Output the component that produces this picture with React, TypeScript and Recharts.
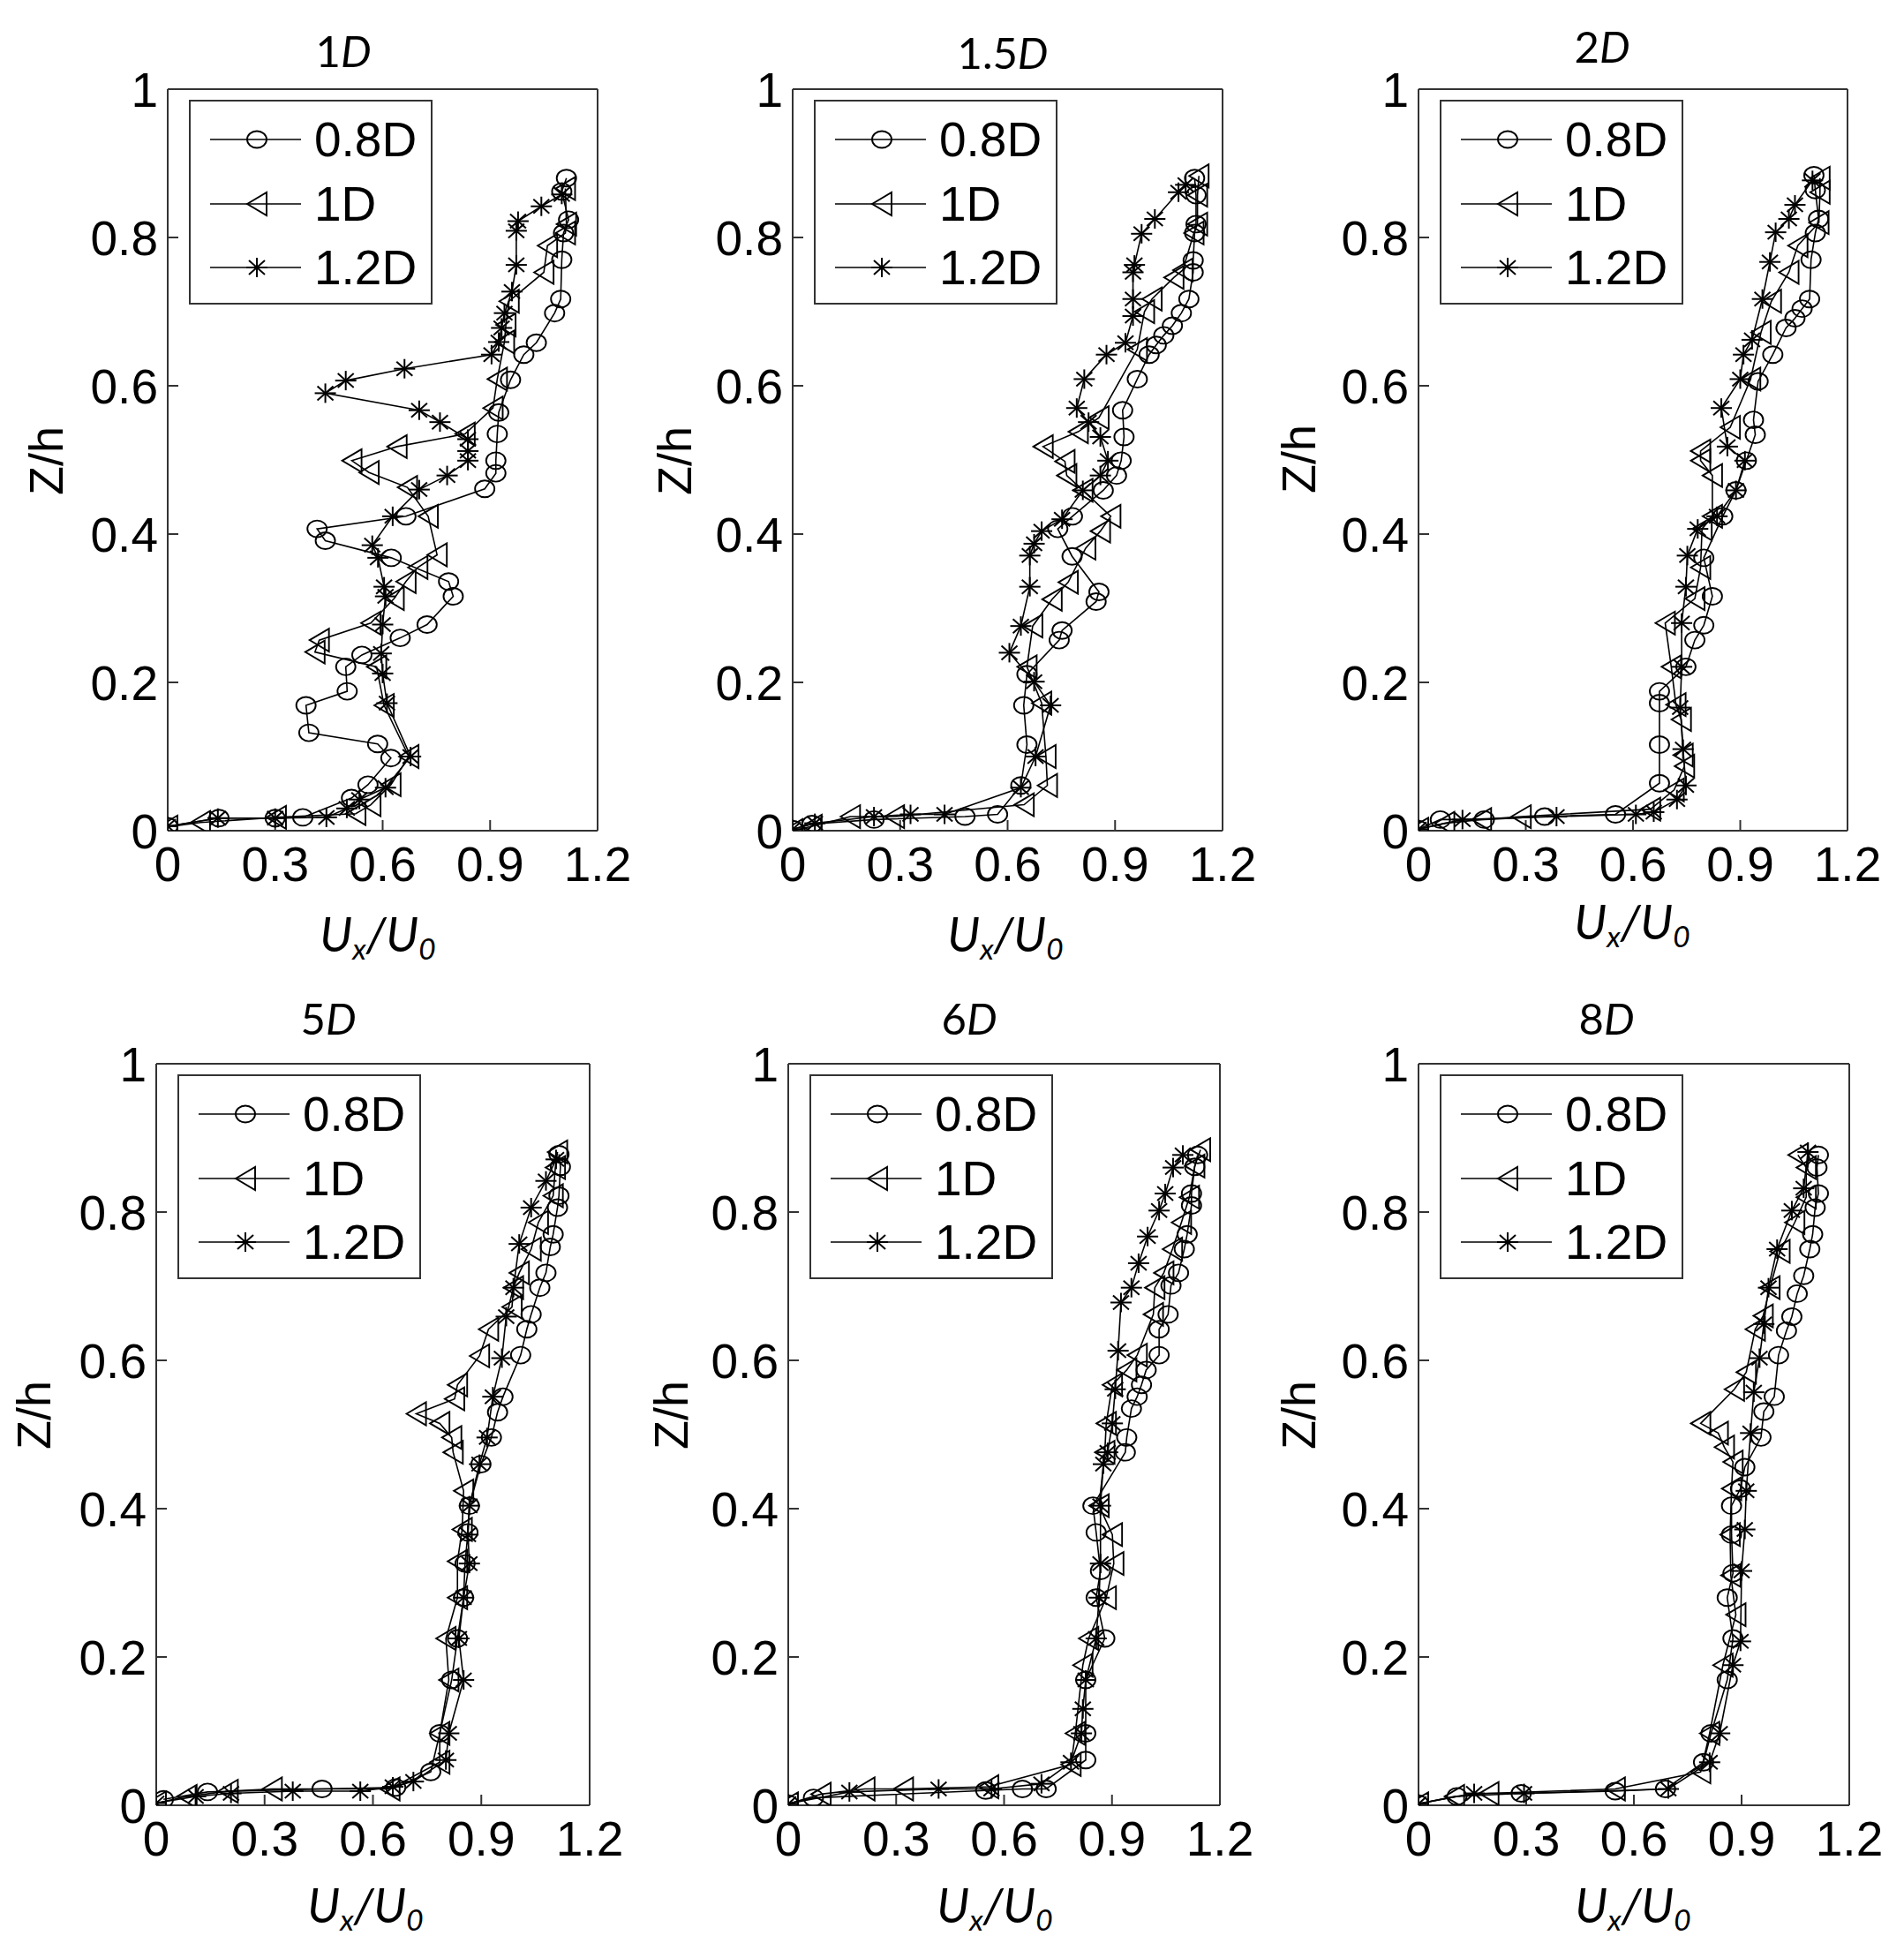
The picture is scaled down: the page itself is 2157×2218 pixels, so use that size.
import React from "react";
import { ScatterChart, Scatter, XAxis, YAxis, Legend } from "recharts";

type Pt = [number, number];

const d1_08: Pt[] = [
  [1.113, 0.88], [1.1, 0.862], [1.119, 0.824], [1.105, 0.806], [1.1, 0.77], [1.097, 0.717], [1.08, 0.698],
  [1.029, 0.658], [0.994, 0.642], [0.957, 0.608], [0.924, 0.564], [0.92, 0.535], [0.916, 0.499], [0.916, 0.482],
  [0.885, 0.461], [0.665, 0.424], [0.417, 0.407], [0.44, 0.391], [0.624, 0.368], [0.784, 0.336], [0.797, 0.316],
  [0.724, 0.278], [0.649, 0.26], [0.542, 0.237], [0.497, 0.221], [0.501, 0.188], [0.386, 0.169], [0.394, 0.132],
  [0.586, 0.117], [0.623, 0.098], [0.559, 0.062], [0.513, 0.044], [0.377, 0.018], [0.3, 0.017], [0.143, 0.017],
  [0.0, 0.006],
];
const d1_10: Pt[] = [
  [1.11, 0.866], [1.113, 0.818], [1.11, 0.806], [1.06, 0.789], [1.05, 0.753], [0.953, 0.714], [0.944, 0.682],
  [0.94, 0.659], [0.92, 0.609], [0.908, 0.57], [0.83, 0.535], [0.64, 0.518], [0.514, 0.499], [0.562, 0.483],
  [0.669, 0.463], [0.727, 0.424], [0.752, 0.372], [0.698, 0.355], [0.665, 0.336], [0.632, 0.313], [0.567, 0.28],
  [0.423, 0.257], [0.411, 0.241], [0.583, 0.221], [0.604, 0.169], [0.673, 0.1], [0.623, 0.062], [0.567, 0.035],
  [0.525, 0.023], [0.303, 0.018], [0.091, 0.011], [0.0, 0.005],
];
const d1_12: Pt[] = [
  [1.1, 0.858], [1.043, 0.842], [0.978, 0.822], [0.973, 0.809], [0.973, 0.763], [0.961, 0.727], [0.94, 0.698],
  [0.932, 0.678], [0.924, 0.659], [0.904, 0.642], [0.661, 0.623], [0.497, 0.607], [0.44, 0.59], [0.702, 0.567],
  [0.76, 0.551], [0.838, 0.528], [0.838, 0.512], [0.838, 0.499], [0.78, 0.479], [0.702, 0.46], [0.628, 0.424],
  [0.571, 0.385], [0.587, 0.368], [0.604, 0.329], [0.608, 0.316], [0.6, 0.278], [0.596, 0.239], [0.6, 0.212],
  [0.612, 0.172], [0.678, 0.1], [0.608, 0.058], [0.535, 0.042], [0.5, 0.03], [0.443, 0.018], [0.3, 0.017],
  [0.14, 0.017], [0.0, 0.006],
];

const d15_08: Pt[] = [
  [1.122, 0.88], [1.126, 0.857], [1.126, 0.818], [1.122, 0.806], [1.118, 0.769], [1.118, 0.753], [1.106, 0.717],
  [1.085, 0.698], [1.06, 0.681], [1.036, 0.668], [1.015, 0.655], [0.995, 0.642], [0.962, 0.609], [0.921, 0.567],
  [0.925, 0.531], [0.917, 0.499], [0.904, 0.479], [0.867, 0.459], [0.781, 0.424], [0.74, 0.407], [0.78, 0.37],
  [0.855, 0.322], [0.847, 0.309], [0.752, 0.27], [0.744, 0.257], [0.654, 0.211], [0.645, 0.169], [0.654, 0.116],
  [0.637, 0.061], [0.572, 0.022], [0.481, 0.019], [0.227, 0.015], [0.054, 0.009], [0.0, 0.002],
];
const d15_10: Pt[] = [
  [1.134, 0.883], [1.13, 0.857], [1.13, 0.818], [1.12, 0.806], [1.089, 0.756], [1.064, 0.746], [1.003, 0.717],
  [0.982, 0.7], [0.962, 0.649], [0.855, 0.557], [0.797, 0.538], [0.699, 0.518], [0.76, 0.498], [0.765, 0.479],
  [0.81, 0.459], [0.888, 0.424], [0.859, 0.404], [0.818, 0.381], [0.769, 0.335], [0.724, 0.312], [0.67, 0.276],
  [0.654, 0.221], [0.695, 0.172], [0.707, 0.1], [0.711, 0.061], [0.646, 0.035], [0.284, 0.019], [0.161, 0.019],
  [0.054, 0.006], [0.0, 0.0],
];
const d15_12: Pt[] = [
  [1.097, 0.871], [1.077, 0.861], [1.011, 0.825], [0.974, 0.805], [0.954, 0.763], [0.95, 0.753], [0.95, 0.717],
  [0.95, 0.694], [0.929, 0.658], [0.876, 0.642], [0.814, 0.609], [0.793, 0.57], [0.826, 0.551], [0.859, 0.531],
  [0.88, 0.499], [0.859, 0.479], [0.81, 0.459], [0.752, 0.42], [0.695, 0.404], [0.674, 0.387], [0.662, 0.371],
  [0.662, 0.329], [0.637, 0.276], [0.605, 0.24], [0.674, 0.201], [0.72, 0.169], [0.678, 0.1], [0.637, 0.058],
  [0.424, 0.022], [0.329, 0.022], [0.227, 0.019], [0.062, 0.01], [0.0, 0.002],
];

const d2_08: Pt[] = [
  [1.106, 0.884], [1.11, 0.864], [1.119, 0.825], [1.11, 0.806], [1.098, 0.77], [1.094, 0.717], [1.073, 0.704],
  [1.053, 0.691], [1.028, 0.678], [0.991, 0.642], [0.95, 0.606], [0.937, 0.554], [0.942, 0.534], [0.917, 0.499],
  [0.888, 0.459], [0.851, 0.424], [0.798, 0.368], [0.822, 0.316], [0.798, 0.277], [0.773, 0.257], [0.748, 0.221],
  [0.674, 0.188], [0.674, 0.172], [0.674, 0.116], [0.674, 0.064], [0.551, 0.022], [0.353, 0.019], [0.184, 0.015],
  [0.061, 0.015], [0.0, 0.002],
];
const d2_10: Pt[] = [
  [1.123, 0.88], [1.123, 0.861], [1.12, 0.82], [1.061, 0.789], [1.036, 0.753], [0.987, 0.714], [0.958, 0.672],
  [0.929, 0.609], [0.872, 0.544], [0.789, 0.512], [0.789, 0.499], [0.822, 0.479], [0.822, 0.424], [0.793, 0.407],
  [0.789, 0.355], [0.773, 0.313], [0.69, 0.28], [0.707, 0.221], [0.72, 0.17], [0.735, 0.15], [0.74, 0.102],
  [0.744, 0.087], [0.715, 0.055], [0.649, 0.029], [0.287, 0.019], [0.176, 0.015], [0.073, 0.01], [0.0, 0.002],
];
const d2_12: Pt[] = [
  [1.102, 0.877], [1.053, 0.844], [1.036, 0.825], [0.999, 0.807], [0.983, 0.767], [0.962, 0.717], [0.933, 0.662],
  [0.909, 0.642], [0.9, 0.609], [0.847, 0.57], [0.864, 0.518], [0.913, 0.499], [0.888, 0.459], [0.835, 0.424],
  [0.781, 0.407], [0.752, 0.371], [0.748, 0.329], [0.736, 0.28], [0.736, 0.221], [0.732, 0.166], [0.74, 0.11],
  [0.748, 0.061], [0.723, 0.042], [0.658, 0.025], [0.608, 0.022], [0.386, 0.019], [0.123, 0.015], [0.0, 0.002],
];

const d5_08: Pt[] = [
  [1.115, 0.878], [1.119, 0.861], [1.115, 0.822], [1.111, 0.806], [1.099, 0.77], [1.091, 0.753], [1.079, 0.718],
  [1.062, 0.698], [1.038, 0.662], [1.026, 0.642], [1.009, 0.607], [0.96, 0.551], [0.945, 0.53], [0.928, 0.496],
  [0.899, 0.46], [0.867, 0.404], [0.863, 0.368], [0.855, 0.326], [0.851, 0.28], [0.834, 0.225], [0.818, 0.169],
  [0.785, 0.097], [0.76, 0.045], [0.663, 0.024], [0.459, 0.022], [0.142, 0.018], [0.02, 0.008],
];
const d5_10: Pt[] = [
  [1.111, 0.881], [1.105, 0.86], [1.099, 0.822], [1.058, 0.786], [1.038, 0.75], [1.005, 0.718], [0.989, 0.698],
  [0.985, 0.672], [0.92, 0.642], [0.895, 0.606], [0.834, 0.567], [0.826, 0.548], [0.72, 0.528], [0.785, 0.515],
  [0.818, 0.496], [0.822, 0.476], [0.851, 0.424], [0.847, 0.372], [0.834, 0.329], [0.834, 0.28], [0.802, 0.225],
  [0.81, 0.169], [0.785, 0.097], [0.785, 0.058], [0.647, 0.022], [0.321, 0.022], [0.199, 0.019], [0.085, 0.012],
  [0.0, 0.003],
];
const d5_12: Pt[] = [
  [1.107, 0.871], [1.079, 0.842], [1.038, 0.806], [1.005, 0.757], [0.989, 0.698], [0.969, 0.659], [0.957, 0.603],
  [0.932, 0.551], [0.916, 0.496], [0.895, 0.46], [0.867, 0.404], [0.863, 0.365], [0.867, 0.326], [0.851, 0.28],
  [0.838, 0.225], [0.851, 0.169], [0.81, 0.097], [0.802, 0.061], [0.712, 0.032], [0.655, 0.025], [0.565, 0.019],
  [0.378, 0.019], [0.207, 0.016], [0.109, 0.012], [0.0, 0.003],
];

const d6_08: Pt[] = [
  [1.138, 0.877], [1.13, 0.861], [1.121, 0.825], [1.121, 0.809], [1.109, 0.77], [1.101, 0.75], [1.085, 0.718],
  [1.064, 0.701], [1.056, 0.662], [1.031, 0.642], [1.031, 0.607], [0.995, 0.587], [0.982, 0.567], [0.97, 0.551],
  [0.954, 0.535], [0.941, 0.496], [0.937, 0.476], [0.847, 0.404], [0.856, 0.368], [0.868, 0.316], [0.856, 0.28],
  [0.88, 0.225], [0.827, 0.169], [0.827, 0.097], [0.827, 0.061], [0.717, 0.022], [0.651, 0.022], [0.549, 0.02],
  [0.07, 0.01], [0.0, 0.002],
];
const d6_10: Pt[] = [
  [1.146, 0.884], [1.13, 0.862], [1.115, 0.82], [1.093, 0.786], [1.068, 0.75], [1.044, 0.718], [1.019, 0.698],
  [1.015, 0.662], [0.97, 0.607], [0.941, 0.587], [0.901, 0.567], [0.884, 0.515], [0.88, 0.476], [0.864, 0.404],
  [0.901, 0.365], [0.905, 0.326], [0.884, 0.28], [0.835, 0.225], [0.819, 0.189], [0.798, 0.097], [0.786, 0.055],
  [0.557, 0.025], [0.32, 0.022], [0.213, 0.022], [0.091, 0.015], [0.0, 0.002],
];
const d6_12: Pt[] = [
  [1.097, 0.877], [1.07, 0.86], [1.048, 0.825], [1.031, 0.802], [0.999, 0.767], [0.974, 0.731], [0.954, 0.698],
  [0.925, 0.678], [0.917, 0.613], [0.909, 0.561], [0.901, 0.515], [0.888, 0.476], [0.876, 0.46], [0.868, 0.404],
  [0.868, 0.326], [0.864, 0.28], [0.856, 0.225], [0.827, 0.169], [0.819, 0.13], [0.815, 0.097], [0.786, 0.058],
  [0.704, 0.029], [0.565, 0.022], [0.418, 0.022], [0.17, 0.018], [0.0, 0.002],
];

const d8_08: Pt[] = [
  [1.114, 0.877], [1.11, 0.86], [1.114, 0.825], [1.105, 0.806], [1.098, 0.77], [1.09, 0.75], [1.073, 0.714],
  [1.055, 0.69], [1.04, 0.659], [1.025, 0.64], [1.003, 0.607], [0.991, 0.551], [0.962, 0.531], [0.954, 0.496],
  [0.909, 0.456], [0.897, 0.427], [0.872, 0.404], [0.872, 0.365], [0.876, 0.313], [0.86, 0.28], [0.876, 0.225],
  [0.86, 0.169], [0.815, 0.097], [0.794, 0.058], [0.688, 0.022], [0.548, 0.019], [0.286, 0.016], [0.107, 0.012],
  [0.0, 0.002],
];
const d8_10: Pt[] = [
  [1.057, 0.877], [1.08, 0.86], [1.08, 0.82], [1.048, 0.786], [1.007, 0.747], [0.979, 0.698], [0.96, 0.66],
  [0.938, 0.642], [0.913, 0.584], [0.88, 0.561], [0.786, 0.515], [0.835, 0.502], [0.852, 0.483], [0.876, 0.463],
  [0.872, 0.427], [0.868, 0.365], [0.87, 0.31], [0.884, 0.257], [0.848, 0.189], [0.811, 0.097], [0.786, 0.045],
  [0.548, 0.022], [0.196, 0.016], [0.1, 0.012], [0.0, 0.002],
];
const d8_12: Pt[] = [
  [1.085, 0.881], [1.073, 0.832], [1.04, 0.802], [0.999, 0.75], [0.975, 0.698], [0.962, 0.649], [0.95, 0.603],
  [0.934, 0.557], [0.925, 0.502], [0.913, 0.424], [0.909, 0.372], [0.9, 0.316], [0.897, 0.221], [0.876, 0.189],
  [0.839, 0.097], [0.811, 0.058], [0.696, 0.022], [0.294, 0.016], [0.155, 0.016], [0.0, 0.002],
];

const seriesNames = ["0.8D", "1D", "1.2D"];
const xTicks = [0, 0.3, 0.6, 0.9, 1.2];
const zTicks = [0, 0.2, 0.4, 0.6, 0.8, 1];

const INK = "#000";
const FRAME = "#333";
const ARIAL = "'Liberation Sans', Arial, sans-serif";
const CALIBRI = "Lato, 'Open Sans', sans-serif";

const AXIS_W = 130; // room for the y tick labels
const AXIS_H = 80; // room for the x tick labels
const PAD_T = 40; // room above the frame for the "1" tick
const PAD_R = 50; // room right of the frame for the "1.2" tick
const PLOT_H = 840;

const rows = (pts: Pt[]) => pts.map(([x, z]) => ({ x, z }));

// MATLAB style markers
const Circle = ({ cx, cy }: any) => (
  <ellipse cx={cx} cy={cy} rx={11} ry={9.5} fill="none" stroke={INK} strokeWidth={1.9} />
);
const TriLeft = ({ cx, cy }: any) => (
  <polygon
    points={`${cx - 11},${cy} ${cx + 11},${cy - 13} ${cx + 11},${cy + 13}`}
    fill="none"
    stroke={INK}
    strokeWidth={1.9}
  />
);
const Star = ({ cx, cy }: any) => (
  <g stroke={INK} strokeWidth={2}>
    <line x1={cx - 12} y1={cy} x2={cx + 12} y2={cy} />
    <line x1={cx} y1={cy - 11} x2={cx} y2={cy + 11} />
    <line x1={cx - 9} y1={cy - 8} x2={cx + 9} y2={cy + 8} />
    <line x1={cx - 9} y1={cy + 8} x2={cx + 9} y2={cy - 8} />
  </g>
);
const markers: Record<string, (p: any) => React.ReactElement> = {
  "0.8D": Circle,
  "1D": TriLeft,
  "1.2D": Star,
};

// legend payload comes back sorted by name, so put it back in series order
const LegendBox = ({ payload }: any) => {
  const names: string[] =
    payload && payload.length
      ? payload.map((e: any) => String(e.value)).sort((a: string, b: string) => seriesNames.indexOf(a) - seriesNames.indexOf(b))
      : seriesNames;
  return (
    <div
      style={{
        width: 272,
        height: 228,
        border: `2px solid ${FRAME}`,
        background: "#fff",
        position: "relative",
      }}
    >
      {names.map((name, i) => {
        const Mark = markers[name];
        return (
          <div
            key={name}
            style={{ position: "absolute", left: 0, top: 13 + i * 72.5, height: 60, display: "flex", alignItems: "center" }}
          >
            <svg width={140} height={60}>
              <line x1={22} x2={125} y1={30} y2={30} stroke={INK} strokeWidth={1.3} />
              <Mark cx={75} cy={30} />
            </svg>
            <span style={{ fontFamily: ARIAL, fontSize: 55, lineHeight: "60px", color: INK }}>{name}</span>
          </div>
        );
      })}
    </div>
  );
};

interface PanelCfg {
  title: string;
  series: Pt[][];
  left: number;
  top: number;
  w: number;
  titleAt: [number, number];
  zAt: [number, number];
  uAt: [number, number];
}

const panels: PanelCfg[] = [
  { title: "1", series: [d1_08, d1_10, d1_12], left: 190, top: 101, w: 487, titleAt: [389, 57], zAt: [52, 522], uAt: [428, 1061] },
  { title: "1.5", series: [d15_08, d15_10, d15_12], left: 898, top: 101, w: 487, titleAt: [1136, 59], zAt: [764, 522], uAt: [1139, 1061] },
  { title: "2", series: [d2_08, d2_10, d2_12], left: 1607, top: 101, w: 486, titleAt: [1815, 52], zAt: [1471, 520], uAt: [1849, 1047] },
  { title: "5", series: [d5_08, d5_10, d5_12], left: 177, top: 1205, w: 491, titleAt: [372, 1153], zAt: [38, 1603], uAt: [414, 2161] },
  { title: "6", series: [d6_08, d6_10, d6_12], left: 893, top: 1205, w: 489, titleAt: [1098, 1153], zAt: [760, 1603], uAt: [1127, 2161] },
  { title: "8", series: [d8_08, d8_10, d8_12], left: 1607, top: 1205, w: 488, titleAt: [1820, 1153], zAt: [1471, 1603], uAt: [1850, 2161] },
];

const axisLine = { stroke: FRAME, strokeWidth: 2 };
const tickLine = { stroke: FRAME, strokeWidth: 2 };
const tickFont = { fill: INK, fontSize: 55, fontFamily: ARIAL };

const centered = (at: [number, number]): React.CSSProperties => ({
  position: "absolute",
  left: at[0],
  top: at[1],
  transform: "translate(-50%, -50%)",
  whiteSpace: "nowrap",
  color: INK,
  lineHeight: 1,
});

function Panel({ p }: { p: PanelCfg }) {
  const W = AXIS_W + p.w + PAD_R;
  const H = PAD_T + PLOT_H + AXIS_H;
  return (
    <>
      <div style={{ position: "absolute", left: p.left - AXIS_W, top: p.top - PAD_T }}>
        <ScatterChart width={W} height={H} margin={{ top: PAD_T - 1, right: PAD_R - 1, left: 0, bottom: 0 }}>
          <XAxis
            xAxisId="b"
            type="number"
            dataKey="x"
            domain={[0, 1.2]}
            ticks={xTicks}
            interval={0}
            allowDataOverflow
            height={AXIS_H}
            tickSize={-12}
            tickMargin={30}
            axisLine={axisLine}
            tickLine={tickLine}
            tick={tickFont}
          />
          <XAxis
            xAxisId="t"
            orientation="top"
            type="number"
            dataKey="x"
            domain={[0, 1.2]}
            ticks={xTicks}
            interval={0}
            allowDataOverflow
            height={1}
            tickSize={-12}
            axisLine={axisLine}
            tickLine={tickLine}
            tick={false}
          />
          <YAxis
            yAxisId="l"
            type="number"
            dataKey="z"
            domain={[0, 1]}
            ticks={zTicks}
            interval={0}
            allowDataOverflow
            width={AXIS_W}
            tickSize={-12}
            tickMargin={23}
            axisLine={axisLine}
            tickLine={tickLine}
            tick={tickFont}
          />
          <YAxis
            yAxisId="r"
            orientation="right"
            type="number"
            dataKey="z"
            domain={[0, 1]}
            ticks={zTicks}
            interval={0}
            allowDataOverflow
            width={1}
            tickSize={-12}
            axisLine={axisLine}
            tickLine={tickLine}
            tick={false}
          />
          {p.series.map((pts, i) => (
            <Scatter
              key={seriesNames[i]}
              name={seriesNames[i]}
              xAxisId="b"
              yAxisId="l"
              data={rows(pts)}
              line={{ stroke: INK, strokeWidth: 1.6 }}
              lineType="joint"
              shape={markers[seriesNames[i]]}
              fill={INK}
              isAnimationActive={false}
            />
          ))}
          <Legend
            layout="vertical"
            align="center"
            verticalAlign="middle"
            content={LegendBox}
            wrapperStyle={{ left: AXIS_W + 24, top: PAD_T + 12, width: "auto", height: "auto" }}
          />
        </ScatterChart>
      </div>
      <div style={{ ...centered(p.titleAt), fontFamily: CALIBRI, fontSize: 49 }}>
        {p.title}
        <i>D</i>
      </div>
      <div
        style={{
          ...centered(p.zAt),
          fontFamily: ARIAL,
          fontSize: 54,
          transform: "translate(-50%, -50%) rotate(-90deg)",
        }}
      >
        Z/h
      </div>
      <div style={{ ...centered(p.uAt), fontFamily: CALIBRI, fontSize: 54, fontStyle: "italic" }}>
        U<sub style={{ fontSize: "0.62em", verticalAlign: "-0.28em" }}>x</sub>/U
        <sub style={{ fontSize: "0.62em", verticalAlign: "-0.28em" }}>0</sub>
      </div>
    </>
  );
}

export default function App() {
  return (
    <div style={{ position: "absolute", left: 0, top: 0, width: 2157, height: 2218, background: "#fff" }}>
      {panels.map((p) => (
        <Panel key={p.title} p={p} />
      ))}
    </div>
  );
}
